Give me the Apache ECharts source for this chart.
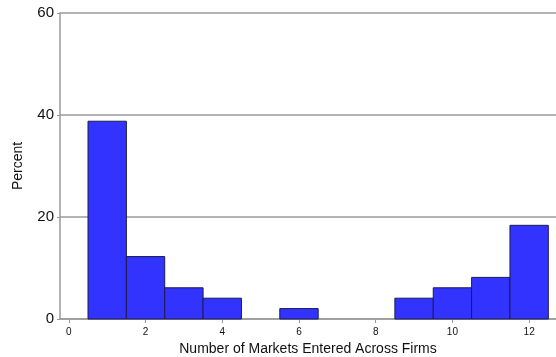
<!DOCTYPE html>
<html>
<head>
<meta charset="utf-8">
<script src="https://cdn.jsdelivr.net/npm/echarts@6/dist/echarts.min.js"></script>
<style>
  html, body { margin: 0; padding: 0; background: #fff; }
  #chart { width: 556px; height: 357px; }
</style>
</head>
<body>
<div id="chart"></div>
<script>
// Number of markets each firm entered (1..12) and share of firms, in percent
const markets = [1, 2, 3, 4, 5, 6, 7, 8, 9, 10, 11, 12];
const percent = [38.78, 12.24, 6.12, 4.08, 0, 2.04, 0, 0, 4.08, 6.12, 8.16, 18.37];
const xTicks = [0, 2, 4, 6, 8, 10, 12];
const yTicks = [0, 20, 40, 60];

const gray = '#9a9a9a';
const font = '"Liberation Sans", Arial, Helvetica, sans-serif';

const chart = echarts.init(document.getElementById('chart'), null, { renderer: 'canvas' });

chart.setOption({
  animation: false,
  grid: { left: 60, right: 0, top: 13, bottom: 38, outerBoundsMode: 'none', containLabel: false },
  xAxis: {
    type: 'value',
    min: -0.23,
    max: 12.7,
    name: 'Number of Markets Entered Across Firms',
    nameLocation: 'middle',
    nameGap: 23,
    nameTextStyle: { fontFamily: font, fontSize: 14, color: '#111' },
    axisLine: { show: true, onZero: false, lineStyle: { color: gray, width: 1.5 } },
    axisTick: { show: true, length: 4, customValues: xTicks, lineStyle: { color: gray } },
    axisLabel: { customValues: xTicks, fontFamily: font, fontSize: 10, color: '#111', margin: 8 },
    splitLine: { show: false }
  },
  yAxis: {
    type: 'value',
    min: yTicks[0],
    max: yTicks[yTicks.length - 1],
    interval: 20,
    name: 'Percent',
    nameLocation: 'middle',
    nameGap: 35,
    nameTextStyle: { fontFamily: font, fontSize: 14, color: '#111' },
    axisLine: { show: true, onZero: false, lineStyle: { color: gray, width: 1.5 } },
    axisTick: { show: true, length: 3, lineStyle: { color: gray } },
    axisLabel: { fontFamily: font, fontSize: 15, color: '#111', margin: 6 },
    splitLine: { show: true, lineStyle: { color: gray, width: 1.5 } }
  },
  series: [{
    type: 'custom',
    data: markets.map((m, i) => [m, percent[i]]),
    encode: { x: 0, y: 1 },
    renderItem: function (params, api) {
      const x = api.value(0);
      const y = api.value(1);
      if (!y) return null;
      const p0 = api.coord([x - 0.5, y]);
      const p1 = api.coord([x + 0.5, 0]);
      return {
        type: 'rect',
        shape: { x: p0[0], y: p0[1], width: p1[0] - p0[0], height: p1[1] - p0[1] },
        style: { fill: '#3333ff', stroke: '#1c1c50', lineWidth: 1 }
      };
    }
  }]
});
</script>
</body>
</html>
